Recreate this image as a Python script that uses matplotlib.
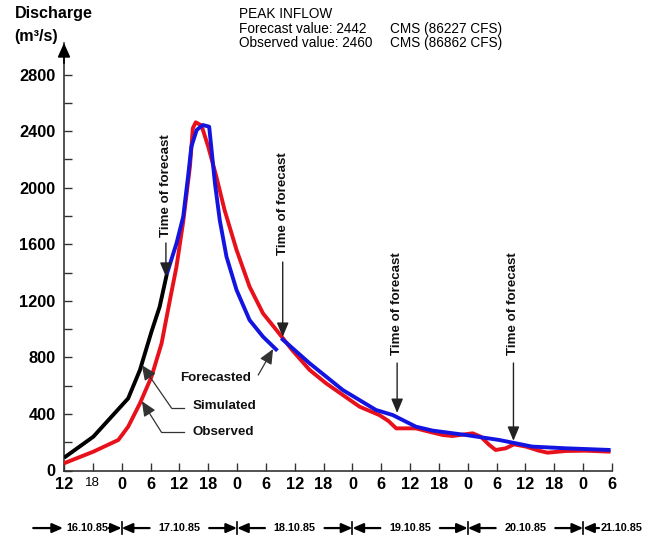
import matplotlib
matplotlib.use('Agg')
import matplotlib.pyplot as plt
import numpy as np

plt.rcParams['font.family'] = ['Liberation Sans', 'DejaVu Sans']

# time axis: hours since 16.10.85 12:00
obs_t = [0, 6.1, 11.3, 13.35, 15.8, 18.2, 20.3, 22.0, 23.4, 24.8, 26.2, 26.8, 27.4, 28.6,
         30.0, 31.7, 33.4, 35.9, 38.6, 41.4, 44.2, 47.5, 51.1, 54.5, 58.0, 61.5, 65.6,
         67.5, 69.1, 73.2, 76.0, 78.8, 80.8, 85.0, 86.7, 88.5, 89.8, 91.9, 93.6, 96.1,
         98.8, 100.6, 104.4, 108.5, 113.7]
obs_q = [51, 133, 216, 310, 475, 663, 899, 1200, 1441, 1760, 2150, 2420, 2462, 2440,
         2290, 2077, 1842, 1559, 1300, 1111, 993, 850, 711, 617, 534, 451, 392,
         350, 298, 298, 274, 251, 244, 263, 239, 180, 145, 157, 185, 169,
         140, 126, 138, 140, 133]

sim_t = [0, 6.1, 13.35, 15.8, 18.2, 19.9, 21.4]
sim_q = [90, 239, 510, 711, 982, 1158, 1390]

fc1_t = [21.4, 23.4, 24.8, 25.8, 26.5, 27.6, 28.9, 30.2, 30.7, 31.4, 32.4, 33.8, 35.9,
         38.6, 41.4, 44.4]
fc1_q = [1390, 1606, 1795, 2077, 2290, 2408, 2443, 2431, 2266, 2031, 1771, 1512, 1276,
         1064, 946, 847]

fc2_t = [45.2, 51.1, 58.0, 64.9, 68.4, 73.2, 76.7, 83.6, 90.5, 97.4, 104.4, 113.7]
fc2_q = [935, 758, 569, 428, 392, 310, 282, 251, 216, 169, 157, 145]

xtick_hours = list(range(0, 115, 6))
xtick_labels = ['12', '18', '0', '6', '12', '18', '0', '6', '12', '18',
                '0', '6', '12', '18', '0', '6', '12', '18', '0', '6']
ytick_major = [0, 400, 800, 1200, 1600, 2000, 2400, 2800]
ytick_minor = [200, 600, 1000, 1400, 1800, 2200, 2600]

date_labels = ['16.10.85', '17.10.85', '18.10.85', '19.10.85', '20.10.85', '21.10.85']
date_centers = [4.9, 24, 48, 72, 96, 116]
day_bounds = [12, 36, 60, 84, 108]

fc_times = [21.2, 45.5, 69.3, 93.5]
fc_tips = [1370, 945, 407, 210]
fc_arrow_start = [1609, 1474, 760, 760]
fc_text_base = [1651, 1524, 817, 817]

fig = plt.figure(figsize=(6.46, 5.37), dpi=100)
ax = fig.add_axes([64 / 646, (537 - 470.5) / 537, 548 / 646, 427.5 / 537])
ax.set_xlim(0, 114)
ax.set_ylim(0, 3023)

red = '#e8101a'
blue = '#1414e0'
ax.plot(obs_t, obs_q, color=red, lw=2.8, solid_capstyle='butt', solid_joinstyle='round', zorder=3)
ax.plot(fc1_t, fc1_q, color=blue, lw=2.8, solid_capstyle='butt', solid_joinstyle='round', zorder=4)
ax.plot(fc2_t, fc2_q, color=blue, lw=2.8, solid_capstyle='butt', solid_joinstyle='round', zorder=4)
ax.plot(sim_t, sim_q, color='black', lw=2.8, solid_capstyle='butt', solid_joinstyle='round', zorder=5)

for s in ['top', 'right']:
    ax.spines[s].set_visible(False)
for s in ['left', 'bottom']:
    ax.spines[s].set_color('#333333')
    ax.spines[s].set_linewidth(1.2)

ax.set_xticks(xtick_hours)
ax.set_xticklabels(xtick_labels, fontsize=11.8, fontweight='bold')
lbl = ax.get_xticklabels()[1]
lbl.set_fontsize(9.5)
lbl.set_fontweight('normal')
ax.set_yticks(ytick_major)
ax.set_yticklabels([str(v) for v in ytick_major], fontsize=11.8, fontweight='bold')
ax.set_yticks(ytick_minor, minor=True)
ax.tick_params(which='both', direction='in', length=5.5, width=1, color='#333333')
ax.tick_params(axis='x', pad=5)
ax.tick_params(axis='y', pad=6)

# y-axis arrow head
ax.annotate('', xy=(0, 3023), xytext=(0, 2880), annotation_clip=False,
            arrowprops=dict(arrowstyle='-|>,head_length=0.85,head_width=0.38', mutation_scale=10,
                            lw=1.2, color='black', shrinkA=0, shrinkB=0))

# time of forecast markers
afp = dict(arrowstyle='-|>,head_length=0.86,head_width=0.36', mutation_scale=10,
           lw=1.0, color='#222222', shrinkA=0, shrinkB=0)
for t, tip, st, tb in zip(fc_times, fc_tips, fc_arrow_start, fc_text_base):
    ax.annotate('', xy=(t, tip), xytext=(t, st), arrowprops=afp, zorder=6)
    ax.text(t, tb, 'Time of forecast', rotation=90, ha='center', va='bottom',
            fontsize=9.6, fontweight='bold', color='#111111')

# pointer labels
pp = dict(arrowstyle='-|>,head_length=0.9,head_width=0.4', mutation_scale=10,
          lw=0.9, color='#333333', shrinkA=0, shrinkB=0)
lab_kw = dict(ha='left', va='center', fontsize=9.6, fontweight='bold', color='#111111')
ax.text(24.1, 654, 'Forecasted', **lab_kw)
ax.annotate('', xy=(43.5, 859), xytext=(40.4, 675), arrowprops=pp, zorder=6)

ax.text(26.8, 456, 'Simulated', **lab_kw)
ax.plot([25.0, 22.4], [440, 440], color='#333333', lw=0.9)
ax.annotate('', xy=(16.2, 745), xytext=(22.4, 440), arrowprops=pp, zorder=6)

ax.text(26.8, 272, 'Observed', **lab_kw)
ax.plot([25.0, 20.3], [269, 269], color='#333333', lw=0.9)
ax.annotate('', xy=(16.2, 490), xytext=(20.3, 269), arrowprops=pp, zorder=6)

# date row
yd = -407
dp = dict(arrowstyle='-|>,head_length=0.8,head_width=0.35', mutation_scale=8,
          lw=1.6, color='black', shrinkA=0, shrinkB=0)
ax.annotate('', xy=(-0.2, yd), xytext=(-6.4, yd), arrowprops=dp, annotation_clip=False)
for i, b in enumerate(day_bounds):
    left = 9.3 if i == 0 else b - 5.8
    right = b + 3.3 if i == len(day_bounds) - 1 else b + 5.8
    ax.annotate('', xy=(b, yd), xytext=(left, yd), arrowprops=dp, annotation_clip=False)
    ax.annotate('', xy=(b, yd), xytext=(right, yd), arrowprops=dp, annotation_clip=False)
    ax.plot([b, b], [yd - 40, yd + 40], color='black', lw=1.2, clip_on=False)
for c, d in zip(date_centers, date_labels):
    ax.text(c, yd, d, ha='center', va='center', fontsize=7.8, fontweight='bold', clip_on=False)

# titles
fig.text(15 / 646, 1 - 13.5 / 537, 'Discharge', fontsize=11.6, fontweight='bold', va='center', ha='left')
fig.text(14 / 646, 1 - 36 / 537, '(m³/s)', fontsize=11.6, fontweight='bold', va='center', ha='left')

fig.text(239 / 646, 1 - 14 / 537, 'PEAK INFLOW', fontsize=9.8, va='center', ha='left')
fig.text(239 / 646, 1 - 29 / 537, 'Forecast value: 2442', fontsize=9.8, va='center', ha='left')
fig.text(239 / 646, 1 - 43 / 537, 'Observed value: 2460', fontsize=9.8, va='center', ha='left')
fig.text(390 / 646, 1 - 29 / 537, 'CMS (86227 CFS)', fontsize=9.8, va='center', ha='left')
fig.text(390 / 646, 1 - 43 / 537, 'CMS (86862 CFS)', fontsize=9.8, va='center', ha='left')

fig.savefig('out.png', dpi=100)
